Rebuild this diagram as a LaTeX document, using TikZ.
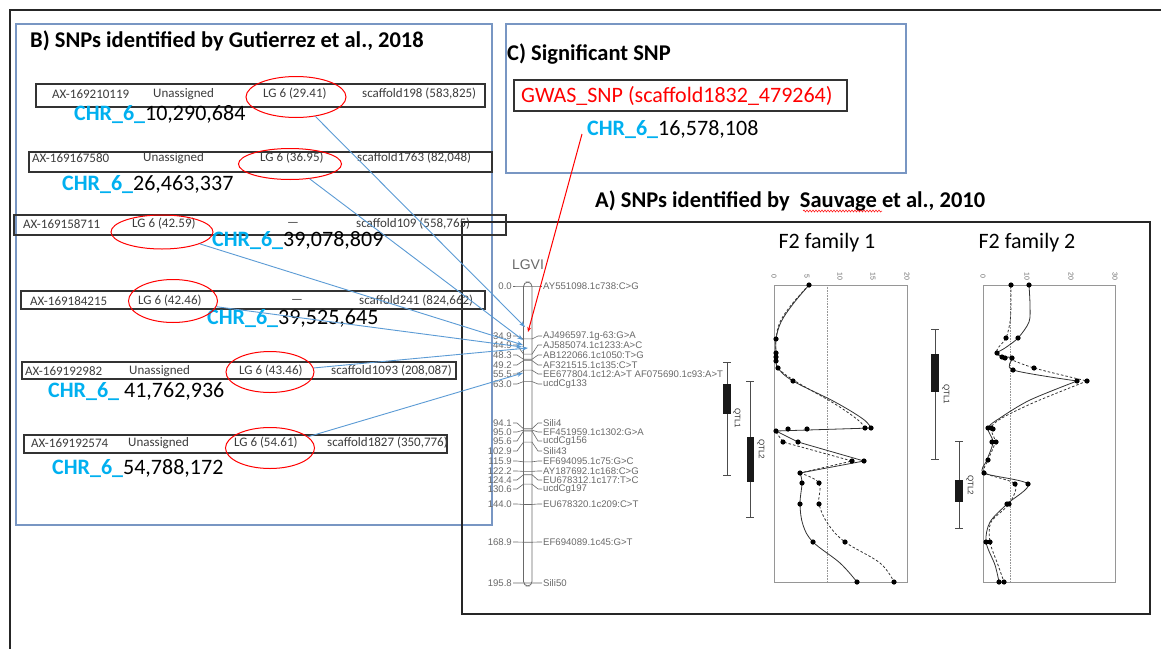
\documentclass[tikz,border=0pt]{standalone}
\usepackage{fontspec}
\setmainfont{Carlito}
\newfontfamily\arialf{Liberation Sans}
\usetikzlibrary{shapes.geometric,arrows.meta,decorations.pathmorphing}
\definecolor{boxblue}{RGB}{120,150,195}
\definecolor{chrblue}{RGB}{0,176,240}
\definecolor{arrblue}{RGB}{91,155,213}
\definecolor{txtgray}{RGB}{60,60,60}
\definecolor{mapgray}{RGB}{105,105,105}
\definecolor{plotgray}{RGB}{150,150,150}
\newcommand\fsz[1]{\fontsize{#1}{#1}\selectfont}
\newcommand\chrlab[1]{\textcolor{chrblue}{\bfseries CHR\_6\_}#1}
\tikzset{
  ttl/.style={anchor=west, inner sep=0, font=\fsz{22.5}\bfseries},
  rowt/.style={anchor=west, inner sep=0, font=\fsz{13}, text=txtgray},
  chr/.style={anchor=west, inner sep=0, font=\fsz{22}},
  ell/.style={draw=red, ellipse, line width=1pt, inner sep=0},
  rowbox/.style={draw=black!80, line width=1.2pt},
  bbox/.style={draw=boxblue, line width=1.3pt},
  mk/.style={font=\arialf\fsz{9.6}, text=mapgray, inner sep=0},
  mapline/.style={draw=mapgray, line width=0.6pt},
  blarrow/.style={draw=arrblue, line width=0.9pt, -{Stealth[length=6pt,width=4.5pt]}},
  tickl/.style={font=\arialf\fsz{7}, text=mapgray, inner sep=0, rotate=-90},
  qtll/.style={font=\arialf\fsz{8}, text=black!80, inner sep=0, rotate=-90},
  solidc/.style={draw=black!80, line width=0.8pt},
  dashc/.style={draw=black!80, line width=0.8pt, dash pattern=on 2.5pt off 2pt},
}
\begin{document}
\begin{tikzpicture}[x=1pt,y=-1pt]
\useasboundingbox (0,0) rectangle (1161,648);
\fill[white] (0,0) rectangle (1161,648);
% outer frame
\draw[line width=2pt, black!85] (10,700) -- (10,10) -- (1200,10);
% B box
\draw[bbox] (16,24) rectangle (492,525);
% C box
\draw[bbox] (506,24) rectangle (906,173);
% A box
\draw[black!85, line width=1.5pt] (462,222) rectangle (1150,614);

% titles
\node[ttl] (tB) at (30,41) {B) SNPs identified by Gutierrez et al., 2018};
\node[ttl] (tC) at (507,54) {C) Significant SNP};
\node[ttl] (tA) at (595,201) {A) SNPs identified by\ \ Sauvage et al., 2010};
\draw[red, line width=0.5pt, decorate, decoration={snake, amplitude=1pt, segment length=3pt}] (803,211) -- (882,211);

% C content
\draw[rowbox] (514,80) rectangle (847,111);
\node[chr, text=red] (gw) at (521,96) {GWAS\_SNP (scaffold1832\_479264)};
\node[chr] (g2) at (587,130) {\chrlab{16,578,108}};

% rows in B
\draw[rowbox] (36,84) rectangle (485,107);
\node[rowt] (r1a) at (52,94) {AX-169210119};
\node[rowt] (r1b) at (153,94) {Unassigned};
\node[rowt] (r1c) at (263,94) {LG 6 (29.41)};
\node[rowt] (r1d) at (362,94) {scaffold198 (583,825)};
\node[chr] (c1) at (74,115) {\chrlab{10,290,684}};

\draw[rowbox] (29,152) rectangle (492,172);
\node[rowt] (r2a) at (32,158) {AX-169167580};
\node[rowt] (r2b) at (143,158) {Unassigned};
\node[rowt] (r2c) at (260,158) {LG 6 (36.95)};
\node[rowt] (r2d) at (357,158) {scaffold1763 (82,048)};
\node[chr] (c2) at (62,185) {\chrlab{26,463,337}};

\draw[rowbox] (14,215) rectangle (506,235);
\node[rowt] (r3a) at (23,224) {AX-169158711};
\node[rowt] (r3c) at (132,224) {LG 6 (42.59)};
\node[rowt] (r3b) at (287,224) {---};
\node[rowt] (r3d) at (356,224) {scaffold109 (558,765)};
\node[chr] (c3) at (212,241) {\chrlab{39,078,809}};

\draw[rowbox] (21,291) rectangle (485,309);
\node[rowt] (r4a) at (30,301) {AX-169184215};
\node[rowt] (r4c) at (138,301) {LG 6 (42.46)};
\node[rowt] (r4b) at (291,301) {---};
\node[rowt] (r4d) at (359,301) {scaffold241 (824,662)};
\node[chr] (c4) at (207,319) {\chrlab{39,525,645}};

\draw[rowbox] (22,362) rectangle (456,379);
\node[rowt] (r5a) at (25,371) {AX-169192982};
\node[rowt] (r5b) at (129,371) {Unassigned};
\node[rowt] (r5c) at (239,371) {LG 6 (43.46)};
\node[rowt] (r5d) at (331,371) {scaffold1093 (208,087)};
\node[chr] (c5) at (48,392) {\chrlab{ 41,762,936}};

\draw[rowbox] (24,435) rectangle (447,453);
\node[rowt] (r6a) at (31,443) {AX-169192574};
\node[rowt] (r6b) at (128,443) {Unassigned};
\node[rowt] (r6c) at (234,443) {LG 6 (54.61)};
\node[rowt] (r6d) at (327,443) {scaffold1827 (350,776)};
\node[chr] (c6) at (52,469) {\chrlab{54,788,172}};

% ellipses
\node[ell, minimum width=100pt, minimum height=41pt] (e1) at (296,97) {};
\node[ell, minimum width=103pt, minimum height=31pt] (e2) at (290,164) {};
\node[ell, minimum width=102pt, minimum height=34pt] (e3) at (162,232) {};
\node[ell, minimum width=89pt, minimum height=43pt] (e4) at (173,301) {};
\node[ell, minimum width=88pt, minimum height=41pt] (e5) at (270,372) {};
\node[ell, minimum width=89pt, minimum height=41pt] (e6) at (270,448) {};

% chromosome
\node[font=\arialf\fsz{14}, text=mapgray, inner sep=0] (lg) at (528,265) {LGVI};
\draw[mapgray, line width=0.8pt, rounded corners=4.5pt] (523.5,282) rectangle (532,586);
\foreach \cm/\ly/\nm [count=\i] in {
  0.0/286/AY551098.1c738:C>G,
  34.9/336/AJ496597.1g-63:G>A,
  44.9/345/AJ585074.1c1233:A>C,
  48.3/355/AB122066.1c1050:T>G,
  49.2/365/AF321515.1c135:C>T,
  55.5/374/EE677804.1c12:A>T AF075690.1c93:A>T,
  63.0/384/ucdCg133,
  94.1/423/Sili4,
  95.0/432/EF451959.1c1302:G>A,
  95.6/441/ucdCg156,
  102.9/451/Sili43,
  115.9/461/EF694095.1c75:G>C,
  122.2/471/AY187692.1c168:C>G,
  124.4/480/EU678312.1c177:T>C,
  130.6/489/ucdCg197,
  144.0/504/EU678320.1c209:C>T,
  168.9/542/EF694089.1c45:G>T,
  195.8/583/Sili50}{
  \pgfmathsetmacro\ay{286+1.517*\cm}
  \draw[mapline] (513,\ly) -- (517,\ly) -- (523.5,\ay) -- (532,\ay) -- (538,\ly) -- (542,\ly);
  \node[mk, anchor=east] (ml\i) at (512,\ly) {\cm};
  \node[mk, anchor=west] (mr\i) at (543,\ly) {\nm};
}

% arrow targets
\coordinate (t1) at (525,327);
\coordinate (t2) at (523,340);
\coordinate (t3) at (523,345);
\coordinate (t4) at (522,347);
\coordinate (t5) at (528,348);
\coordinate (t6) at (523,373);
\draw[blarrow] (e1) -- (t1);
\draw[blarrow] (e2) -- (t2);
\draw[blarrow] (e3) -- (t3);
\draw[blarrow] (e4) -- (t4);
\draw[blarrow] (e5) -- (t5);
\draw[blarrow] (e6) -- (t6);
\coordinate (rs) at (582,134);
\coordinate (rt) at (528,332);
\draw[red, line width=1pt, -{Stealth[length=5pt,width=4pt]}] (rs) -- (rt);

% F2 family titles
\node[font=\fsz{22}, inner sep=0] (f1) at (827,243) {F2 family 1};
\node[font=\fsz{22}, inner sep=0] (f2) at (1027,243) {F2 family 2};

% plot 1
\draw[plotgray, line width=0.8pt] (774,285) rectangle (907,582);
\draw[plotgray, line width=0.6pt, densely dotted] (827,285) -- (827,582);
\foreach \x/\t [count=\i] in {774/0,807/5,840/10,873/15,907/20}
  \node[tickl] (pa\i) at (\x,276) {\t};
% plot 1 curves
\draw[solidc] plot[smooth, tension=0.6] coordinates {(809,285) (793,304) (781,322) (776,339) (776,353) (776,358) (778,368) (793,381) (835,402) (863,419) (871,428)};
\draw[dashc] plot[smooth, tension=0.6] coordinates {(809,285) (792,304) (780,322) (776,339) (776,353) (776,358) (778,368) (795,381) (835,404) (858,420) (865,428)};
\draw[solidc] (871,428) -- (776,431);
\draw[solidc] (776,431) -- (798,442) -- (864,461) -- (800,473);
\draw[dashc] (776,432) -- (783,442) -- (852,461) -- (800,473);
\draw[solidc] plot[smooth, tension=0.6] coordinates {(800,473) (802,483) (800,504) (803,525) (813,542) (840,563) (857,582)};
\draw[dashc] plot[smooth, tension=0.6] coordinates {(800,473) (819,483) (819,504) (828,524) (845,542) (880,563) (894,582)};
\foreach \p in {(809,285),(776,339),(776,353),(776,357),(776,361),(778,368),(793,381),(871,428),(865,428),(807,429),(788,429),(776,431),(783,442),(798,442),(864,461),(852,461),(800,473),(802,483),(819,483),(800,504),(819,504),(813,542),(845,542),(857,582),(894,582)}
  \fill[black] \p circle (2.6);
% plot 1 QTLs
\draw[black!70, line width=0.7pt] (727,362) -- (727,475) (723,362) -- (731,362) (723,475) -- (731,475);
\fill[black!90] (723,384) rectangle (731,414);
\node[qtll] (q11) at (737,418) {QTL1};
\draw[black!70, line width=0.7pt] (750,381) -- (750,517) (746,381) -- (754,381) (746,517) -- (754,517);
\fill[black!90] (746.5,437) rectangle (754,482);
\node[qtll] (q12) at (761,449) {QTL2};

% plot 2
\draw[plotgray, line width=0.8pt] (983,285) rectangle (1115,582);
\draw[plotgray, line width=0.6pt, densely dotted] (1010,285) -- (1010,582);
\foreach \x/\t [count=\i] in {983/0,1027/10,1071/20,1115/30}
  \node[tickl] (pb\i) at (\x,276) {\t};
\draw[solidc] plot[smooth, tension=0.5] coordinates {(1029,285) (1030,305) (1029,322) (1018,338) (1005,348) (997,353) (1002,357) (1012,358) (1013,370) (1077,381)};
\draw[dashc] plot[smooth, tension=0.5] coordinates {(1011,285) (1011,305) (1010,322) (1006,338) (998,348) (997,353) (1005,357) (1034,368) (1087,381)};
\draw[solidc] plot[smooth, tension=0.5] coordinates {(1077,381) (1030,400) (1000,418) (988,428) (993,442) (987,460) (984,473) (1028,484) (1007,504) (990,522) (986,542) (995,565) (999,582)};
\draw[dashc] plot[smooth, tension=0.5] coordinates {(1087,381) (1035,402) (1002,418) (991,428) (995,442) (988,460) (985,473) (1015,484) (1009,504) (991,522) (990,542) (998,565) (1004,582)};
\foreach \p in {(1029,285),(1011,285),(1018,338),(1006,338),(997,353),(1002,357),(1005,358),(1012,358),(1013,370),(1034,368),(1077,381),(1087,381),(988,428),(991,428),(993,429),(992,442),(996,442),(988,460),(984,473),(1028,484),(1015,484),(1007,504),(1009,504),(986,542),(990,542),(999,582),(1004,582)}
  \fill[black] \p circle (2.6);
% plot 2 QTLs
\draw[black!70, line width=0.7pt] (935,329) -- (935,459) (931,329) -- (939,329) (931,459) -- (939,459);
\fill[black!90] (931,354) rectangle (939,392);
\node[qtll] (q21) at (946,394) {QTL1};
\draw[black!70, line width=0.7pt] (959,441) -- (959,528) (955,441) -- (963,441) (955,528) -- (963,528);
\fill[black!90] (955,480) rectangle (963,502);
\node[qtll] (q22) at (970,485) {QTL2};
\end{tikzpicture}
\end{document}
